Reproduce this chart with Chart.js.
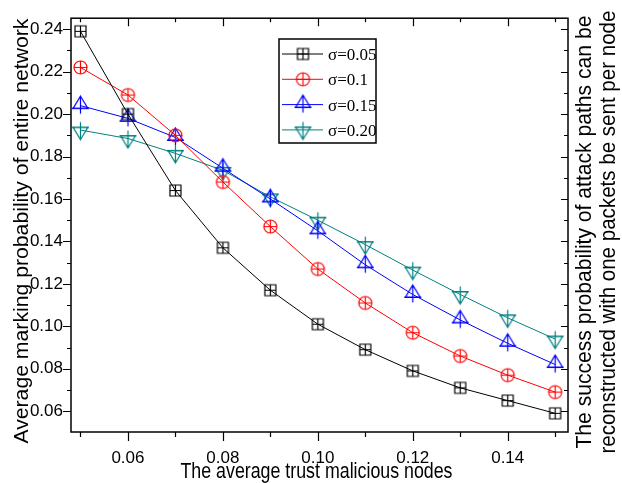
<!DOCTYPE html>
<html><head><meta charset="utf-8">
<script src="https://cdn.jsdelivr.net/npm/chart.js@4/dist/chart.umd.min.js"></script>
<style>html,body{margin:0;padding:0;background:#fff;overflow:hidden}</style>
</head><body><canvas id="c" width="622" height="483"></canvas>
<script>
// ---- data ----
const xValues = [0.05, 0.06, 0.07, 0.08, 0.09, 0.10, 0.11, 0.12, 0.13, 0.14, 0.15];
const sigma005 = [0.239, 0.200, 0.164, 0.137, 0.117, 0.101, 0.089, 0.079, 0.071, 0.065, 0.059];
const sigma010 = [0.222, 0.209, 0.190, 0.168, 0.147, 0.127, 0.111, 0.097, 0.086, 0.077, 0.069];
const sigma015 = [0.204, 0.198, 0.189, 0.1745, 0.160, 0.145, 0.129, 0.115, 0.103, 0.092, 0.082];
const sigma020 = [0.1925, 0.1885, 0.1815, 0.1735, 0.161, 0.150, 0.1385, 0.1265, 0.115, 0.104, 0.094];
const seriesLabels = ['σ=0.05', 'σ=0.1', 'σ=0.15', 'σ=0.20'];
const xTickValues = [0.05, 0.06, 0.07, 0.08, 0.09, 0.10, 0.11, 0.12, 0.13, 0.14, 0.15];
const xLabelValues = [0.06, 0.08, 0.10, 0.12, 0.14];
const yTickValues = [0.06, 0.07, 0.08, 0.09, 0.10, 0.11, 0.12, 0.13, 0.14, 0.15, 0.16, 0.17, 0.18, 0.19, 0.20, 0.21, 0.22, 0.23, 0.24];
const yLabelValues = [0.06, 0.08, 0.10, 0.12, 0.14, 0.16, 0.18, 0.20, 0.22, 0.24];
const xTitle = 'The average trust malicious nodes';
const yTitle = 'Average marking probability of entire network';
const y2Title = ['The success probability of attack paths can be', 'reconstructed with one packets be sent per node'];

// ---- styles ----
const colors = ['#000000', '#ff0000', '#0000ff', '#008080'];
const markerKinds = ['square', 'circle', 'up', 'down'];

function makeMarker(kind, color) {
  const c = document.createElement('canvas'); c.width = 23; c.height = 23;
  const g = c.getContext('2d'); g.strokeStyle = color; g.lineWidth = 1.2; g.translate(11.5, 11.5);
  g.beginPath();
  if (kind === 'square') { g.rect(-5.5, -5.5, 11, 11); g.moveTo(-5.5, 0); g.lineTo(5.5, 0); g.moveTo(0, -5.5); g.lineTo(0, 5.5); }
  else if (kind === 'circle') { g.arc(0, 0, 6.5, 0, Math.PI * 2); g.moveTo(-6.5, 0); g.lineTo(6.5, 0); g.moveTo(0, -6.5); g.lineTo(0, 6.5); }
  else if (kind === 'up') { g.moveTo(0, -9.5); g.lineTo(7.5, 3); g.lineTo(-7.5, 3); g.closePath(); g.moveTo(-8.5, 2.5); g.lineTo(8.5, 2.5); g.moveTo(0, -9.5); g.lineTo(0, 8); }
  else { g.moveTo(0, 9.5); g.lineTo(7.5, -3); g.lineTo(-7.5, -3); g.closePath(); g.moveTo(-8.5, -2.5); g.lineTo(8.5, -2.5); g.moveTo(0, 9.5); g.lineTo(0, -8); }
  g.stroke();
  return c;
}
const near = (v, arr) => arr.some(a => Math.abs(a - v) < 1e-9);

const seriesData = [sigma005, sigma010, sigma015, sigma020];
const datasets = seriesData.map((ys, i) => ({
  label: seriesLabels[i],
  data: xValues.map((x, j) => ({ x: x, y: ys[j] })),
  borderColor: colors[i],
  borderWidth: 1,
  backgroundColor: 'transparent',
  pointStyle: makeMarker(markerKinds[i], colors[i]),
  pointRadius: 6,
  tension: 0,
  clip: false
}));

const framePlugin = {
  id: 'frame',
  afterDatasetsDraw(chart) {
    const { ctx, chartArea: a, scales: { x, y } } = chart;
    ctx.save();
    ctx.strokeStyle = '#000';
    ctx.lineWidth = 1.5;
    ctx.strokeRect(a.left, a.top, a.right - a.left, a.bottom - a.top);
    ctx.lineWidth = 1.2;
    ctx.beginPath();
    xTickValues.forEach(v => {
      const px = Math.round(x.getPixelForValue(v)) + 0.5;
      const major = near(v, xLabelValues);
      ctx.moveTo(px, a.bottom); ctx.lineTo(px, a.bottom + (major ? 9 : 5));
      ctx.moveTo(px, a.top); ctx.lineTo(px, a.top + (major ? 8 : 4));
    });
    yTickValues.forEach(v => {
      const py = Math.round(y.getPixelForValue(v)) + 0.5;
      const major = near(v, yLabelValues);
      ctx.moveTo(a.left - (major ? 8 : 4), py); ctx.lineTo(a.left, py);
      ctx.moveTo(a.right - (major ? 7 : 4), py); ctx.lineTo(a.right, py);
    });
    ctx.stroke();
    ctx.restore();
  },
  afterDraw(chart) {
    const { ctx, chartArea: a } = chart;
    ctx.save();
    ctx.fillStyle = '#000';
    function txt(t, cx, by, rot, font, width) {
      ctx.save();
      ctx.font = font;
      ctx.translate(cx, by);
      ctx.rotate(rot);
      const w = ctx.measureText(t).width;
      ctx.scale(width / w, 1);
      ctx.textAlign = 'center';
      ctx.textBaseline = 'alphabetic';
      ctx.fillText(t, 0, 0);
      ctx.restore();
    }
    // x title
    txt(xTitle, (a.left + a.right) / 2 - 3, 478, 0, '22px "Liberation Sans"', 272);
    // left title
    txt(yTitle, 28, (a.top + a.bottom) / 2 + 6, -Math.PI / 2, '21px "Liberation Sans"', 425);
    // right title
    txt(y2Title[0], 591, (a.top + a.bottom) / 2 + 7, -Math.PI / 2, '22px "Liberation Sans"', 433);
    txt(y2Title[1], 615, (a.top + a.bottom) / 2 + 7, -Math.PI / 2, '22px "Liberation Sans"', 443);

    // legend
    const lx = 279, ly = 39, lw = 97, lh = 104;
    ctx.lineWidth = 1.5; ctx.strokeStyle = '#000';
    ctx.strokeRect(lx, ly, lw, lh);
    chart.data.datasets.forEach((ds, i) => {
      const ry = ly + 15 + i * 25.3;
      ctx.strokeStyle = ds.borderColor; ctx.lineWidth = 1;
      ctx.beginPath(); ctx.moveTo(lx + 3, ry); ctx.lineTo(lx + 44, ry); ctx.stroke();
      const m = ds.pointStyle;
      ctx.drawImage(m, lx + 24 - m.width / 2, ry - m.height / 2);
      ctx.fillStyle = '#000';
      ctx.font = '17px "Liberation Serif"';
      ctx.textAlign = 'left'; ctx.textBaseline = 'alphabetic';
      ctx.fillText(ds.label, lx + 49, ry + 6);
    });
    ctx.restore();
  }
};

Chart.defaults.font.family = '"Liberation Sans", Arial, sans-serif';
Chart.defaults.color = '#000';

new Chart(document.getElementById('c'), {
  type: 'line',
  data: { datasets: datasets },
  options: {
    responsive: false,
    animation: false,
    devicePixelRatio: 1,
    layout: { padding: { top: 16, left: 0, right: 0, bottom: 0 } },
    plugins: { legend: { display: false }, tooltip: { enabled: false } },
    scales: {
      x: {
        type: 'linear', position: 'bottom', min: 0.048, max: 0.1527,
        grid: { display: false, drawTicks: false }, border: { display: false },
        afterBuildTicks: s => { s.ticks = xTickValues.map(v => ({ value: v })); },
        afterFit: s => { s.height = 51; },
        ticks: {
          autoSkip: false, maxRotation: 0, padding: 16, font: { size: 17 }, color: '#000',
          callback: v => near(v, xLabelValues) ? v.toFixed(2) : ''
        }
      },
      y: {
        type: 'linear', position: 'left', min: 0.0502, max: 0.2452,
        grid: { display: false, drawTicks: false }, border: { display: false },
        afterBuildTicks: s => { s.ticks = yTickValues.map(v => ({ value: v })); },
        afterFit: s => { s.width = 71; },
        ticks: {
          autoSkip: false, padding: 8, font: { size: 17 }, color: '#000',
          callback: v => near(v, yLabelValues) ? v.toFixed(2) : ''
        }
      },
      y2: {
        type: 'linear', position: 'right', min: 0.0502, max: 0.2452,
        grid: { display: false, drawTicks: false }, border: { display: false },
        ticks: { display: false },
        afterFit: s => { s.width = 54; }
      }
    }
  },
  plugins: [framePlugin]
});
</script>
</body></html>
